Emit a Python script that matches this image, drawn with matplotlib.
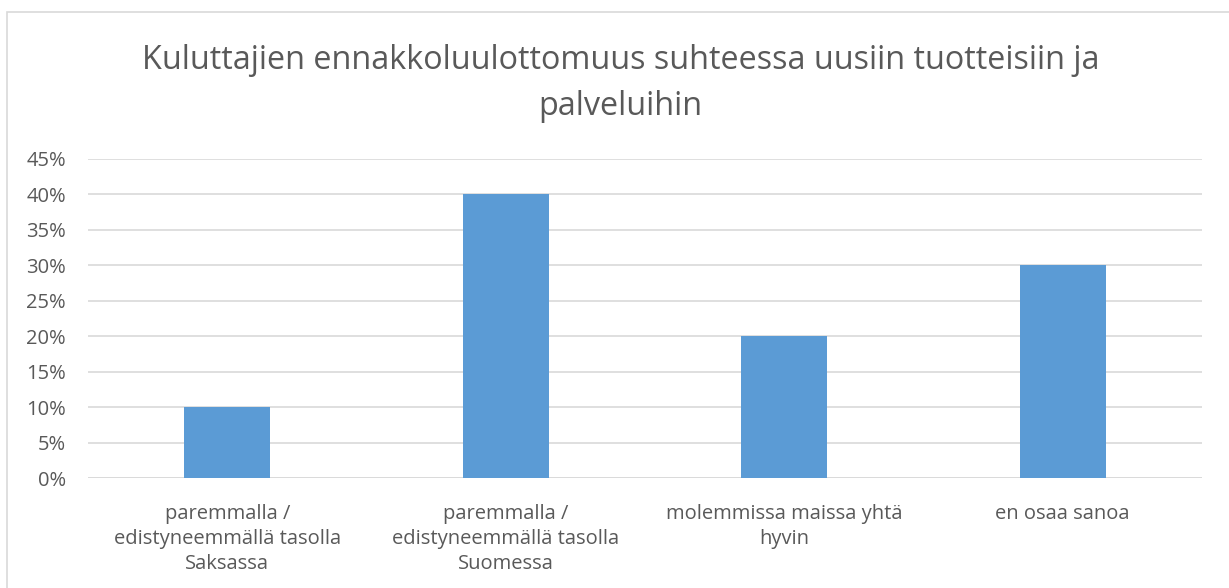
import matplotlib
matplotlib.use("Agg")
import matplotlib.pyplot as plt
from matplotlib.patches import Rectangle
from matplotlib.ticker import FuncFormatter, MultipleLocator

categories = [
    "paremmalla /\nedistyneemmällä tasolla\nSaksassa",
    "paremmalla /\nedistyneemmällä tasolla\nSuomessa",
    "molemmissa maissa yhtä\nhyvin",
    "en osaa sanoa",
]
shares = [0.10, 0.40, 0.20, 0.30]
title = "Kuluttajien ennakkoluulottomuus suhteessa uusiin tuotteisiin ja\npalveluihin"

TEXT = "#595959"
BAR = "#5B9BD5"
GRID = "#D9D9D9"

plt.rcParams["font.family"] = ["Open Sans", "DejaVu Sans"]

fig = plt.figure(figsize=(12.29, 5.88), dpi=100)
ax = fig.add_axes([0.0716, 0.187, 0.9064, 0.543])

xs = list(range(len(categories)))
ax.bar(xs, shares, width=0.31, color=BAR, zorder=3)

ax.set_xlim(-0.5, len(categories) - 0.5)
ax.set_ylim(0, 0.45)
ax.yaxis.set_major_locator(MultipleLocator(0.05))
ax.yaxis.set_major_formatter(FuncFormatter(lambda v, _: f"{v*100:.0f}%"))
ax.grid(axis="y", color=GRID, lw=1.2, zorder=0)
ax.set_xticks(xs)
ax.set_xticklabels(categories, fontsize=14.5, color=TEXT, linespacing=1.32)
ax.tick_params(axis="y", labelsize=14.5, colors=TEXT, length=0, pad=16)
ax.tick_params(axis="x", length=0, pad=19)
for s in ax.spines.values():
    s.set_visible(False)
ax.axhline(0, color=GRID, lw=1.2, zorder=2)

fig.text(0.505, 0.858, title, ha="center", va="center", fontsize=23.3,
         color=TEXT, linespacing=1.5)

# light outer frame of the chart area
fig.patches.append(Rectangle((7 / 1229, -0.05), 1.1, 1 - 12 / 588 + 0.05,
                             transform=fig.transFigure, fill=False,
                             edgecolor=GRID, lw=1.2))

fig.savefig("out.png", dpi=100)
